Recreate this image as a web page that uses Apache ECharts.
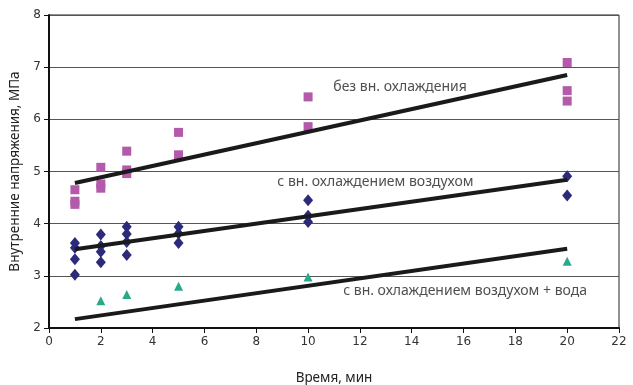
<!DOCTYPE html>
<html><head><meta charset="utf-8">
<script src="https://cdn.jsdelivr.net/npm/echarts@6/dist/echarts.min.js"></script>
<style>html,body{margin:0;padding:0;background:#fff}#c{width:633px;height:385px}</style>
</head><body><div id="c"></div>
<script>
var noCooling = [[1,4.65],[1,4.43],[1,4.37],[2,5.08],[2,4.76],[2,4.68],[3,5.39],[3,5.03],[3,4.96],[5,5.75],[5,5.32],[10,6.43],[10,5.86],[20,7.09],[20,6.55],[20,6.35]];
var airCooling = [[1,3.63],[1,3.54],[1,3.32],[1,3.02],[2,3.79],[2,3.57],[2,3.46],[2,3.26],[3,3.94],[3,3.8],[3,3.65],[3,3.4],[5,3.94],[5,3.81],[5,3.63],[10,4.45],[10,4.15],[10,4.03],[20,4.91],[20,4.54]];
var airWaterCooling = [[2,2.52],[3,2.64],[5,2.8],[10,2.98],[20,3.28]];
var trendNo = [[1,4.78],[20,6.85]];
var trendAir = [[1,3.51],[20,4.84]];
var trendWater = [[1,2.17],[20,3.52]];
var seriesLabels = [[13.55,6.62,'без вн. охлаждения'],[12.6,4.8,'с вн. охлаждением воздухом'],[16.06,2.71,'с вн. охлаждением воздухом + вода']];
var xTicks = [0,2,4,6,8,10,12,14,16,18,20,22];
var yTicks = [2,3,4,5,6,7,8];

var font = 'Noto Sans';
var chart = echarts.init(document.getElementById('c'));
function trend(d){return {type:'line',data:d,symbol:'none',lineStyle:{color:'#1a1a1a',width:4},z:3,silent:true};}
chart.setOption({
  animation:false,
  grid:{left:49,right:14,top:15,bottom:57,show:true,borderColor:'#222',borderWidth:1,outerBoundsMode:'none',containLabel:false},
  xAxis:{type:'value',min:xTicks[0],max:xTicks[xTicks.length-1],interval:2,
    name:'Время, мин',nameLocation:'middle',nameGap:43,
    nameTextStyle:{fontFamily:font,fontSize:13.5,color:'#222'},
    axisLine:{lineStyle:{color:'#111',width:2}},
    axisTick:{show:true,inside:false,length:5,lineStyle:{color:'#111'}},
    axisLabel:{fontFamily:'DejaVu Sans',fontSize:12,color:'#333',margin:8},
    splitLine:{show:false}},
  yAxis:{type:'value',min:yTicks[0],max:yTicks[yTicks.length-1],interval:1,
    name:'Внутренние напряжения, МПа',nameLocation:'middle',nameGap:22,
    nameTextStyle:{fontFamily:font,fontSize:13.5,color:'#222'},
    axisLine:{lineStyle:{color:'#111',width:2}},
    axisTick:{show:true,inside:false,length:5,lineStyle:{color:'#111'}},
    axisLabel:{fontFamily:'DejaVu Sans',fontSize:12,color:'#333',margin:8},
    splitLine:{show:true,lineStyle:{color:'#555',width:1}}},
  series:[
    {type:'scatter',data:noCooling,symbol:'rect',symbolSize:9,itemStyle:{color:'#b35aab',opacity:1},z:2},
    {type:'scatter',data:airCooling,symbol:'diamond',symbolSize:[10,12],itemStyle:{color:'#2c2a7a',opacity:1},z:2},
    {type:'scatter',data:airWaterCooling,symbol:'triangle',symbolSize:9,itemStyle:{color:'#2aa98a',opacity:1},z:2},
    trend(trendNo),trend(trendAir),trend(trendWater),
    {type:'scatter',data:seriesLabels.map(function(l){return {value:[l[0],l[1]],name:l[2]};}),
      symbolSize:0,silent:true,z:5,
      label:{show:true,position:'inside',formatter:function(p){return p.name;},
        fontFamily:font,fontSize:14,color:'#222'}}
  ]
});
</script></body></html>
